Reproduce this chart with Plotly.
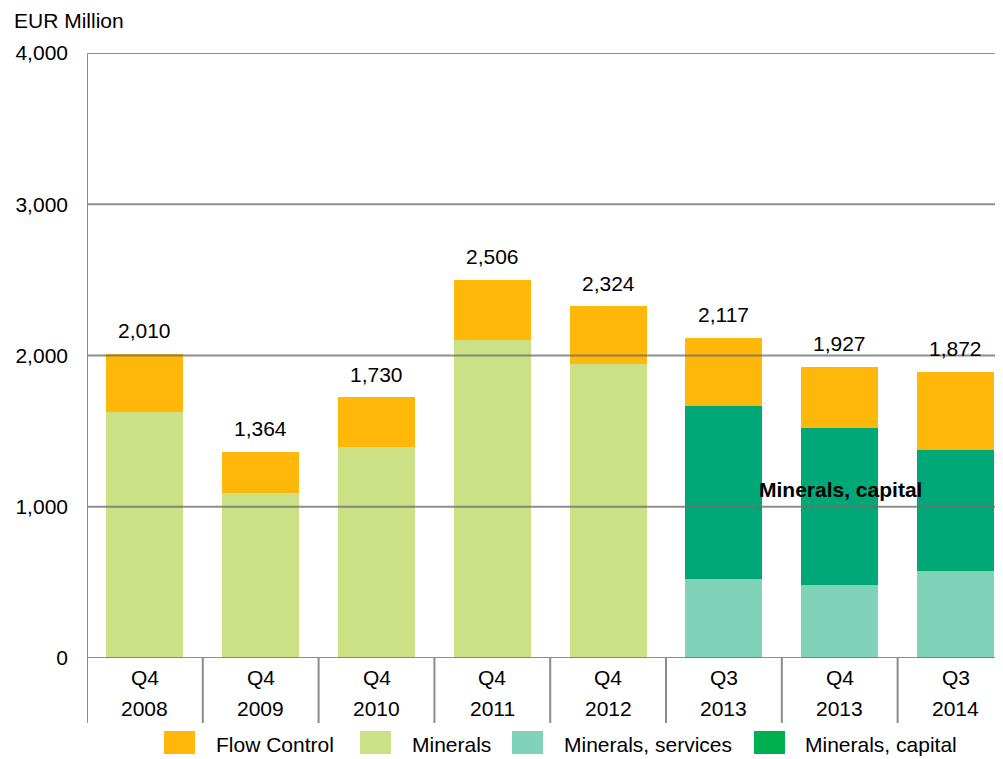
import plotly.graph_objects as go

# data (EUR million)
quarters = ["Q4", "Q4", "Q4", "Q4", "Q4", "Q3", "Q4", "Q3"]
years = ["2008", "2009", "2010", "2011", "2012", "2013", "2013", "2014"]
minerals = [1628, 1089, 1393, 2102, 1944, 0, 0, 0]
minerals_services = [0, 0, 0, 0, 0, 520, 481, 573]
minerals_capital = [0, 0, 0, 0, 0, 1146, 1040, 802]
flow_control = [382, 275, 330, 400, 383, 451, 406, 516]
total_labels = [2010, 1364, 1730, 2506, 2324, 2117, 1927, 1872]
y_ticks = [0, 1000, 2000, 3000, 4000]

FONT = "Liberation Sans, Arial, sans-serif"
C_FLOW = "#FFB709"
C_MIN = "#CCE085"
C_SERV = "#80D3B9"
C_CAP = "#00A878"
C_CAP_LEG = "#00B050"
GRID = "rgba(110,110,110,0.78)"

# the page has an 8px body margin, so the figure is a bit smaller than the window
OFF = 8
FW, FH = 1003 - OFF, 759 - OFF
PLOT_L, PLOT_T, PLOT_B = 87, 53, 658  # plot area in window pixels
L, T = PLOT_L - OFF, PLOT_T - OFF
B = FH - (PLOT_B - OFF)
PW, PH = FW - L, PLOT_B - PLOT_T


def px(x):
    return (x - PLOT_L) / PW


def py(y):
    return (PLOT_B - y) / PH


x = list(range(len(years)))

fig = go.Figure()
for name, vals, col in [("Minerals", minerals, C_MIN),
                        ("Minerals, services", minerals_services, C_SERV),
                        ("Minerals, capital", minerals_capital, C_CAP),
                        ("Flow Control", flow_control, C_FLOW)]:
    fig.add_trace(go.Bar(x=x, y=vals, name=name, marker=dict(color=col, line=dict(width=0)),
                         width=0.665, showlegend=False))

# gridlines drawn over the bars
for t in y_ticks:
    fig.add_shape(type="line", xref="paper", yref="y", x0=0, x1=1, y0=t, y1=t,
                  line=dict(color=GRID, width=2), layer="above")

# category dividers (including y axis line running down)
for i in range(len(years) + 1):
    fig.add_shape(type="line", xref="x", yref="paper", x0=i - 0.5, x1=i - 0.5,
                  y0=1 if i == 0 else 0, y1=py(723),
                  line=dict(color="#8c8c8c", width=2), layer="above")

annotations = []
# total labels above the bars, plus the two-line category labels
for i in x:
    top = minerals[i] + minerals_services[i] + minerals_capital[i] + flow_control[i]
    annotations.append(dict(x=i, y=top, xref="x", yref="y", text=f"{total_labels[i]:,}",
                            showarrow=False, yanchor="middle", yshift=23,
                            font=dict(family=FONT, size=21, color="black")))
    annotations.append(dict(x=i, y=py(677), xref="x", yref="paper", text=quarters[i],
                            showarrow=False, yanchor="middle",
                            font=dict(family=FONT, size=21, color="black")))
    annotations.append(dict(x=i, y=py(709), xref="x", yref="paper", text=years[i],
                            showarrow=False, yanchor="middle",
                            font=dict(family=FONT, size=21, color="black")))

# series label inside the chart
annotations.append(dict(x=px(840), y=py(490), xref="paper", yref="paper",
                        text="<b>Minerals, capital</b>", showarrow=False,
                        xanchor="center", yanchor="middle",
                        font=dict(family=FONT, size=21, color="black")))

# axis title
annotations.append(dict(x=px(12), y=py(20), xref="paper", yref="paper", text="EUR Million",
                        showarrow=False, xanchor="left", yanchor="middle",
                        font=dict(family=FONT, size=21, color="black")))

# manual legend
legend_items = [("Flow Control", C_FLOW, 164, 214), ("Minerals", C_MIN, 360, 410),
                ("Minerals, services", C_SERV, 512, 562), ("Minerals, capital", C_CAP_LEG, 754, 803)]
for label, col, sx, tx in legend_items:
    fig.add_shape(type="rect", xref="paper", yref="paper", x0=px(sx), x1=px(sx + 31),
                  y0=py(731), y1=py(754), fillcolor=col, line=dict(width=0))
    annotations.append(dict(x=px(tx), y=py(744), xref="paper", yref="paper", text=label,
                            showarrow=False, xanchor="left", yanchor="middle",
                            font=dict(family=FONT, size=21, color="black")))

fig.update_layout(
    width=FW, height=FH, margin=dict(l=L, r=0, t=T, b=B),
    barmode="stack", bargap=0.335,
    plot_bgcolor="white", paper_bgcolor="white",
    showlegend=False, annotations=annotations,
    font=dict(family=FONT, size=21, color="black"),
)
fig.update_xaxes(range=[-0.5, 7.41], showticklabels=False, showgrid=False, zeroline=False,
                 showline=False, ticks="")
fig.update_yaxes(range=[0, 4000], tickvals=y_ticks, ticktext=[f"{t:,}" for t in y_ticks],
                 showgrid=False, zeroline=False, showline=False, ticks="",
                 ticklabelstandoff=18, tickfont=dict(family=FONT, size=21, color="black"))

fig.write_html("out.html")
